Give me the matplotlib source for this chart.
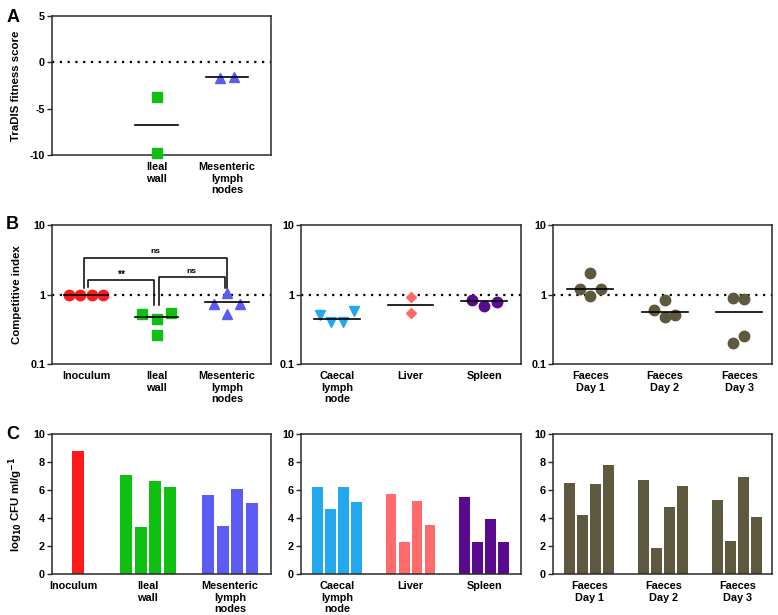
import matplotlib.pyplot as plt

plt.rcParams['font.family'] = ['Liberation Sans', 'DejaVu Sans']
plt.rcParams['font.weight'] = 'bold'
plt.rcParams['font.size'] = 7.8
plt.rcParams['axes.unicode_minus'] = False

# --- panel A: TraDIS fitness score ---
a_labels = ["", "Ileal\nwall", "Mesenteric\nlymph\nnodes"]
a_ileal = [-3.75, -9.8]
a_mesen = [-1.7, -1.55]
a_lines = [-6.77, -1.58]

# --- panel B: competitive index ---
b1_labels = ["Inoculum", "Ileal\nwall", "Mesenteric\nlymph\nnodes"]
b1_inoc = [1.0, 1.0, 1.0, 1.0]
b1_ileal = [0.53, 0.44, 0.55, 0.26]
b1_mesen = [0.72, 1.07, 0.72, 0.52]
b1_lines = [1.0, 0.48, 0.78]

b2_labels = ["Caecal\nlymph\nnode", "Liver", "Spleen"]
b2_caecal = [0.51, 0.40, 0.40, 0.58]
b2_liver = [0.92, 0.54]
b2_spleen = [0.84, 0.68, 0.79]
b2_lines = [0.44, 0.71, 0.81]

b3_labels = ["Faeces\nDay 1", "Faeces\nDay 2", "Faeces\nDay 3"]
b3_day1 = [1.22, 2.05, 1.22, 0.94]
b3_day2 = [0.60, 0.84, 0.48, 0.51]
b3_day3 = [0.90, 0.85, 0.20, 0.25]
b3_lines = [1.22, 0.56, 0.56]

# --- panel C: log10 CFU ---
c_inoc = [8.81]
c_ileal = [7.04, 3.34, 6.61, 6.18]
c_mesen = [5.66, 3.41, 6.04, 5.08]
c_caecal = [6.18, 4.65, 6.23, 5.13]
c_liver = [5.68, 2.27, 5.23, 3.53]
c_spleen = [5.51, 2.27, 3.91, 2.27]
c_day1 = [6.49, 4.18, 6.44, 7.80]
c_day2 = [6.68, 1.89, 4.80, 6.32]
c_day3 = [5.32, 2.39, 6.90, 4.08]

RED = "#ff1a1a"
GREEN = "#10c010"
BLUE = "#5c5cf5"
CYAN = "#22a8ee"
SALMON = "#ff6b6b"
PURPLE = "#5a0a8e"
OLIVE = "#5e583e"
SPINE = "#2a2a2a"

fig = plt.figure(figsize=(7.78, 6.15), dpi=100)

cols = [(0.0668, 0.2815), (0.3869, 0.2828), (0.7108, 0.2815)]
rows = {"A": (0.748, 0.226), "B": (0.408, 0.226), "C": (0.0667, 0.2276)}


def style(ax):
    for s in ax.spines.values():
        s.set_color(SPINE)
        s.set_linewidth(1.1)
    ax.tick_params(axis='y', direction='out', length=3.5, width=1.0, colors=SPINE,
                   labelcolor='black', labelsize=7.8, pad=1.5)
    ax.tick_params(axis='x', length=0, labelsize=7.8, pad=5)
    for lab in ax.get_xticklabels() + ax.get_yticklabels():
        lab.set_fontweight('bold')


def dots(ax, x, vals, offs, marker, color, ms):
    ax.plot([x + o for o in offs], vals, ls='none', marker=marker, color=color,
            ms=ms, mec=color, zorder=3, clip_on=False)


def centre(ax, x, y, half=0.31):
    ax.plot([x - half, x + half], [y, y], color='black', lw=1.2, zorder=4)


def bars(ax, x, vals, color, width=0.145):
    offs = [-0.265, -0.088, 0.088, 0.265]
    ax.bar([x + o for o in offs[:len(vals)]], vals, width=width, color=color,
           edgecolor='none', zorder=2)


# ---------------- A ----------------
axA = fig.add_axes([cols[0][0], rows["A"][0], cols[0][1], rows["A"][1]])
axA.axhline(0, color='black', ls=(0, (1, 2.5)), lw=1.6, zorder=1)
dots(axA, 1, a_ileal, [0, 0], 's', GREEN, 6.5)
dots(axA, 2, a_mesen, [-0.1, 0.1], '^', BLUE, 7)
centre(axA, 1, a_lines[0], 0.3)
centre(axA, 2, a_lines[1], 0.3)
axA.set_xlim(-0.48, 2.62)
axA.set_ylim(-10, 5)
axA.set_yticks([5, 0, -5, -10])
axA.set_xticks([0, 1, 2])
axA.set_xticklabels(a_labels, linespacing=1.2)
axA.set_ylabel("TraDIS fitness score", fontsize=8.2, fontweight='bold', labelpad=6)
style(axA)

# ---------------- B ----------------
def log_axis(ax, xlim):
    ax.set_yscale('log')
    ax.set_ylim(0.1, 10)
    ax.set_yticks([0.1, 1, 10])
    ax.set_yticklabels(["0.1", "1", "10"])
    ax.minorticks_off()
    ax.axhline(1, color='black', ls=(0, (1, 2.5)), lw=1.6, zorder=1)
    ax.set_xlim(*xlim)
    ax.set_xticks([0, 1, 2])


axB1 = fig.add_axes([cols[0][0], rows["B"][0], cols[0][1], rows["B"][1]])
log_axis(axB1, (-0.48, 2.62))
dots(axB1, 0, b1_inoc, [-0.24, -0.08, 0.08, 0.24], 'o', RED, 7.5)
dots(axB1, 1, b1_ileal, [-0.21, 0, 0.21, 0], 's', GREEN, 6.5)
dots(axB1, 2, b1_mesen, [-0.18, 0, 0.18, 0], '^', BLUE, 7)
for i, v in enumerate(b1_lines):
    centre(axB1, i, v)
axB1.set_xticklabels(b1_labels, linespacing=1.2)
axB1.set_ylabel("Competitive index", fontsize=8.2, fontweight='bold', labelpad=6)

# significance brackets
axB1.plot([-0.03, -0.03, 2.0, 2.0], [1.26, 3.4, 3.4, 1.26], color='black', lw=1.1)
axB1.text(0.985, 3.7, "ns", ha='center', va='bottom', fontsize=6)
axB1.plot([0.03, 0.03, 0.97, 0.97], [1.29, 1.6, 1.6, 0.7], color='black', lw=1.1)
axB1.text(0.5, 1.62, "**", ha='center', va='bottom', fontsize=7.5)
axB1.plot([1.03, 1.03, 1.97, 1.97], [0.7, 1.8, 1.8, 1.26], color='black', lw=1.1)
axB1.text(1.5, 1.9, "ns", ha='center', va='bottom', fontsize=6)
style(axB1)

axB2 = fig.add_axes([cols[1][0], rows["B"][0], cols[1][1], rows["B"][1]])
log_axis(axB2, (-0.49, 2.5))
dots(axB2, 0, b2_caecal, [-0.23, -0.08, 0.08, 0.23], 'v', CYAN, 7)
dots(axB2, 1, b2_liver, [0, 0], 'D', SALMON, 5.2)
dots(axB2, 2, b2_spleen, [-0.16, 0, 0.17], 'o', PURPLE, 7.5)
for i, v in enumerate(b2_lines):
    centre(axB2, i, v)
axB2.set_xticklabels(b2_labels, linespacing=1.2)
style(axB2)

axB3 = fig.add_axes([cols[2][0], rows["B"][0], cols[2][1], rows["B"][1]])
log_axis(axB3, (-0.5, 2.44))
dots(axB3, 0, b3_day1, [-0.14, 0, 0.14, 0], 'o', OLIVE, 7.5)
dots(axB3, 1, b3_day2, [-0.14, 0, 0, 0.14], 'o', OLIVE, 7.5)
dots(axB3, 2, b3_day3, [-0.08, 0.06, -0.08, 0.06], 'o', OLIVE, 7.5)
for i, v in enumerate(b3_lines):
    centre(axB3, i, v)
axB3.set_xticklabels(b3_labels, linespacing=1.2)
style(axB3)

# ---------------- C ----------------
def bar_axis(ax, xlim, ticks, labels):
    ax.set_ylim(0, 10)
    ax.set_yticks([0, 2, 4, 6, 8, 10])
    ax.set_xlim(*xlim)
    ax.set_xticks(ticks)
    ax.set_xticklabels(labels, linespacing=1.2)


axC1 = fig.add_axes([cols[0][0], rows["C"][0], cols[0][1], rows["C"][1]])
axC1.bar([0.15], c_inoc, width=0.142, color=RED, edgecolor='none', zorder=2)
bars(axC1, 1, c_ileal, GREEN, 0.142)
bars(axC1, 2, c_mesen, BLUE, 0.142)
bar_axis(axC1, (-0.17, 2.5), [0.09, 1, 2], b1_labels)
axC1.set_ylabel(r"log$_{\mathbf{10}}$ CFU ml/g$^{\mathbf{-1}}$", fontsize=8.2,
                fontweight='bold', labelpad=6)
style(axC1)

axC2 = fig.add_axes([cols[1][0], rows["C"][0], cols[1][1], rows["C"][1]])
bars(axC2, 0, c_caecal, CYAN)
bars(axC2, 1, c_liver, SALMON)
bars(axC2, 2, c_spleen, PURPLE)
bar_axis(axC2, (-0.49, 2.5), [0, 1, 2], b2_labels)
style(axC2)

axC3 = fig.add_axes([cols[2][0], rows["C"][0], cols[2][1], rows["C"][1]])
bars(axC3, 0, c_day1, OLIVE)
bars(axC3, 1, c_day2, OLIVE)
bars(axC3, 2, c_day3, OLIVE)
bar_axis(axC3, (-0.49, 2.47), [0, 1, 2], b3_labels)
style(axC3)

# panel letters
for letter, y in [("A", 0.985), ("B", 0.648), ("C", 0.307)]:
    fig.text(0.008, y, letter, fontsize=13, fontweight='bold', va='top', ha='left')

fig.savefig("out.png", dpi=100)
